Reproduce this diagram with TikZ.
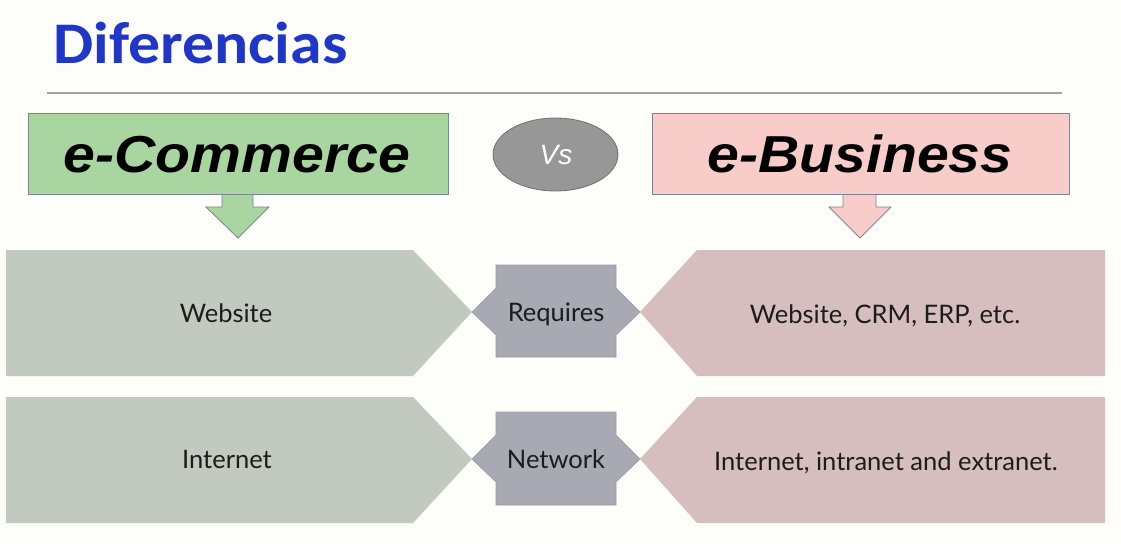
\documentclass[tikz,border=0pt]{standalone}
\usepackage{fontspec}
\setmainfont{Lato}
\newfontfamily\arialf{Liberation Sans}
\newfontfamily\calib{Carlito}
\usetikzlibrary{shapes.geometric}
\definecolor{bgc}{HTML}{FDFDFA}
\definecolor{titleblue}{HTML}{1E37C8}
\definecolor{rulegray}{HTML}{A3A3A3}
\definecolor{boxgreen}{HTML}{A9D5A1}
\definecolor{boxpink}{HTML}{F8CCC8}
\definecolor{boxborder}{HTML}{7D8590}
\definecolor{ellfill}{HTML}{979797}
\definecolor{ellborder}{HTML}{707070}
\definecolor{stripgreen}{HTML}{C2CAC0}
\definecolor{strippink}{HTML}{D6BEBF}
\definecolor{midfill}{HTML}{A9A9B3}
\definecolor{midborder}{HTML}{9A9AA6}
\definecolor{txtdark}{HTML}{1C1C1C}
\tikzset{
  headbox/.style={draw=boxborder, line width=0.8pt, inner sep=0pt},
  headtext/.style={anchor=base, inner sep=0pt, text=black, font=\arialf\bfseries\itshape\fontsize{52}{52}\selectfont},
  striptext/.style={anchor=base, inner sep=0pt, text=txtdark, font=\fontsize{25.5}{25.5}\selectfont},
  midshape/.style={fill=midfill, draw=midborder, line width=0.6pt},
  blockarrow/.style={draw=boxborder, line width=0.8pt, line join=miter}
}
\begin{document}
\begin{tikzpicture}[x=1pt,y=-1pt]
\fill[bgc] (0,0) rectangle (1121,544);
\useasboundingbox (0,0) rectangle (1121,544);
% title
\node[anchor=base west, inner sep=0pt, text=titleblue, font=\calib\bfseries\fontsize{59}{59}\selectfont] (title) at (53,63) {\scalebox{1.08}[1]{Diferencias}};
\coordinate (rl) at (47,93);
\coordinate (rr) at (1062,93);
\draw[rulegray, line width=1.4pt] (rl) -- (rr);
% block arrows
\filldraw[blockarrow, fill=boxgreen] (222,190) -- (222,207) -- (206,207) -- (238,238) -- (269,207) -- (253,207) -- (253,190) -- cycle;
\filldraw[blockarrow, fill=boxpink] (843,190) -- (843,207) -- (829,207) -- (860,238) -- (891,207) -- (876,207) -- (876,190) -- cycle;
% header boxes
\node[headbox, fill=boxgreen, minimum width=420pt, minimum height=81pt] (ecbox) at (238,153.5) {};
\node[headtext] (ectext) at (237,172) {\scalebox{1.1}[1]{e-Commerce}};
\node[headbox, fill=boxpink, minimum width=417pt, minimum height=81pt] (ebbox) at (860.5,153.5) {};
\node[headtext] (ebtext) at (860,172) {\scalebox{1.1}[1]{e-Business}};
% vs
\node[ellipse, draw=ellborder, fill=ellfill, line width=0.8pt, minimum width=125pt, minimum height=73pt, inner sep=0pt] (vs) at (555.5,154.5) {};
\node[anchor=base, inner sep=0pt, text=white, font=\arialf\itshape\fontsize{28}{28}\selectfont] (vstext) at (556,164) {Vs};
% row 1
\fill[stripgreen] (6,250) -- (413,250) -- (472,312) -- (413,376) -- (6,376) -- cycle;
\fill[strippink] (697,250) -- (1105,250) -- (1105,376) -- (697,376) -- (640,312) -- cycle;
\filldraw[midshape] (496,265) -- (616,265) -- (616,288) -- (640,312) -- (616,335) -- (616,357) -- (496,357) -- (496,335) -- (472,312) -- (496,288) -- cycle;
\node[striptext] (w1) at (226,322) {Website};
\node[striptext] (req) at (556,321) {Requires};
\node[striptext] (w2) at (885,323) {Website, CRM, ERP, etc.};
% row 2
\fill[stripgreen] (6,397) -- (413,397) -- (472,459) -- (413,523) -- (6,523) -- cycle;
\fill[strippink] (697,397) -- (1105,397) -- (1105,523) -- (697,523) -- (640,459) -- cycle;
\filldraw[midshape] (496,412) -- (616,412) -- (616,435) -- (640,459) -- (616,482) -- (616,505) -- (496,505) -- (496,482) -- (472,459) -- (496,435) -- cycle;
\node[striptext] (i1) at (227,468) {Internet};
\node[striptext] (net) at (556,468) {Network};
\node[striptext] (i2) at (886,470) {Internet, intranet and extranet.};
\end{tikzpicture}
\end{document}
